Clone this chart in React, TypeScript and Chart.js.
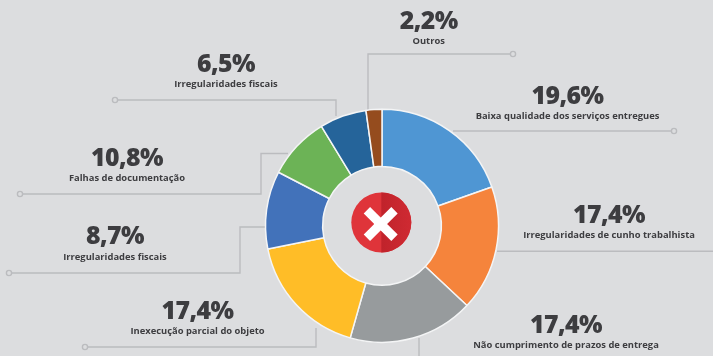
import React, { useEffect, useRef } from "react";
import { Chart, registerables } from "chart.js";

Chart.register(...registerables);

const categories = [
  "Baixa qualidade dos serviços entregues",
  "Irregularidades de cunho trabalhista",
  "Não cumprimento de prazos de entrega",
  "Inexecução parcial do objeto",
  "Irregularidades fiscais",
  "Falhas de documentação",
  "Irregularidades fiscais",
  "Outros",
];
const sliceValues = [19.6, 17.4, 17.4, 17.4, 10.8, 8.7, 6.5, 2.2];
const sliceColors = ["#4F96D3", "#F5843C", "#979B9D", "#FFBD27", "#4272BA", "#6CB356", "#25649A", "#954C1E"];

const callouts = [
  { pct: "2,2%", sub: "Outros", x: 428.7, y: 30, sy: 44 },
  { pct: "6,5%", sub: "Irregularidades fiscais", x: 226, y: 72.7, sy: 87 },
  { pct: "19,6%", sub: "Baixa qualidade dos serviços entregues", x: 567.5, y: 105, sy: 119 },
  { pct: "10,8%", sub: "Falhas de documentação", x: 127, y: 166.7, sy: 181.7 },
  { pct: "17,4%", sub: "Irregularidades de cunho trabalhista", x: 609, y: 223.3, sy: 238.7 },
  { pct: "8,7%", sub: "Irregularidades fiscais", x: 115, y: 245, sy: 260.7 },
  { pct: "17,4%", sub: "Inexecução parcial do objeto", x: 197.5, y: 319.3, sy: 334.7 },
  { pct: "17,4%", sub: "Não cumprimento de prazos de entrega", x: 566, y: 333.3, sy: 348 },
];

const leaders: { pts: number[][]; dot: boolean }[] = [
  { pts: [[115, 100], [336, 100], [336, 116]], dot: true },
  { pts: [[20, 194], [261, 194], [261, 153.5], [288, 153.5]], dot: true },
  { pts: [[9, 273], [240, 273], [240, 227], [268, 227]], dot: true },
  { pts: [[85, 347], [316, 347], [316, 328]], dot: true },
  { pts: [[513, 54], [368, 54], [368, 111]], dot: true },
  { pts: [[674, 131], [453, 131]], dot: true },
  { pts: [[713, 251.3], [497, 251.3]], dot: false },
  { pts: [[419, 356], [419, 338]], dot: false },
];

const LINE = "#BBBCBF";
const INK = "#3D3D40";

const annotations = {
  id: "annotations",
  beforeDatasetsDraw(chart: Chart) {
    const c = chart.ctx;
    c.save();
    c.strokeStyle = LINE;
    c.lineWidth = 1.4;
    for (const l of leaders) {
      c.beginPath();
      l.pts.forEach((p, i) => {
        if (i === 0) c.moveTo(p[0], p[1]);
        else c.lineTo(p[0], p[1]);
      });
      c.stroke();
      if (l.dot) {
        c.beginPath();
        c.arc(l.pts[0][0], l.pts[0][1], 2.6, 0, Math.PI * 2);
        c.fillStyle = "#DCDDDF";
        c.fill();
        c.stroke();
      }
    }
    c.restore();
  },
  afterDatasetsDraw(chart: Chart) {
    const c: any = chart.ctx;
    c.save();
    c.textAlign = "center";
    c.textBaseline = "alphabetic";
    c.fillStyle = INK;
    for (const t of callouts) {
      c.font = "800 24.8px 'Open Sans'";
      c.letterSpacing = "-0.6px";
      c.fillText(t.pct, t.x, t.y - 0.6);
      c.font = "700 9.4px 'Open Sans'";
      c.letterSpacing = "0px";
      c.fillText(t.sub, t.x, t.sy - 0.4);
    }
    const arc: any = chart.getDatasetMeta(0).data[0];
    const cx = arc.x - 0.7;
    const cy = arc.y - 3.3;
    c.beginPath();
    c.arc(cx, cy, 30, 0, Math.PI * 2);
    c.fillStyle = "#DF343A";
    c.fill();
    const shade = c.createLinearGradient(cx, 0, cx + 30, 0);
    shade.addColorStop(0, "#C0232B");
    shade.addColorStop(1, "#CF2A32");
    c.beginPath();
    c.arc(cx, cy, 30, -Math.PI / 2, Math.PI / 2);
    c.closePath();
    c.fillStyle = shade;
    c.fill();
    const xx = arc.x - 1.3;
    const xy = arc.y - 1.8;
    c.strokeStyle = "#FFFFFF";
    c.lineWidth = 9;
    c.beginPath();
    c.moveTo(xx - 13.8, xy - 13.8);
    c.lineTo(xx + 13.8, xy + 13.8);
    c.moveTo(xx + 13.8, xy - 13.8);
    c.lineTo(xx - 13.8, xy + 13.8);
    c.stroke();
    c.restore();
  },
};

export default function App() {
  const ref = useRef<HTMLCanvasElement>(null);
  useEffect(() => {
    document.body.style.margin = "0";
    document.body.style.background = "#DCDDDF";
    const chart = new Chart(ref.current!, {
      type: "doughnut",
      data: {
        labels: categories,
        datasets: [
          {
            data: sliceValues,
            backgroundColor: sliceColors,
            borderColor: "#F4F5F6",
            borderWidth: 1.5,
          },
        ],
      },
      options: {
        responsive: false,
        animation: false,
        radius: 116.5,
        cutout: 59,
        layout: { padding: { left: 265.5, right: 214.5, top: 109.3, bottom: 13.7 } },
        plugins: { legend: { display: false }, tooltip: { enabled: false }, title: { display: false } },
      } as any,
      plugins: [annotations],
    });
    return () => chart.destroy();
  }, []);
  return <canvas ref={ref} width={713} height={356} style={{ display: "block", background: "#DCDDDF" }} />;
}
